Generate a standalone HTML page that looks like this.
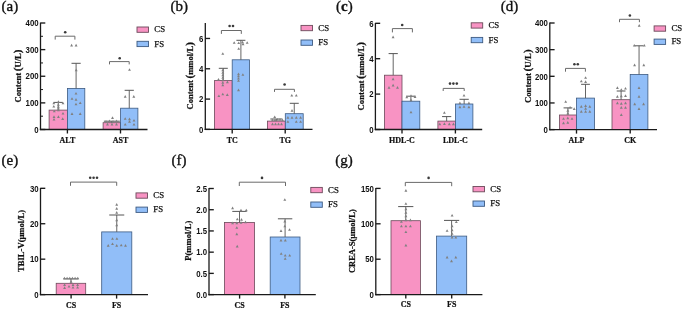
<!DOCTYPE html>
<html><head><meta charset="utf-8"><style>
html,body{margin:0;padding:0;background:#fff;}
body{width:685px;height:309px;overflow:hidden;}
svg{display:block;filter:blur(0.3px);}
</style></head><body>
<svg width="685" height="309" viewBox="0 0 685 309">
<rect x="0" y="0" width="685" height="309" fill="#fff"/>
<rect x="49.10" y="110.10" width="18.30" height="19.40" fill="#f893c3" stroke="#6b4a5a" stroke-width="0.8"/>
<line x1="58.25" y1="110.10" x2="58.25" y2="102.40" stroke="#555" stroke-width="0.9"/>
<line x1="53.65" y1="102.40" x2="62.85" y2="102.40" stroke="#555" stroke-width="1.0"/>
<rect x="67.40" y="88.40" width="17.40" height="41.10" fill="#91bef8" stroke="#3d5a80" stroke-width="0.8"/>
<line x1="76.10" y1="88.40" x2="76.10" y2="63.30" stroke="#555" stroke-width="0.9"/>
<line x1="71.50" y1="63.30" x2="80.70" y2="63.30" stroke="#555" stroke-width="1.0"/>
<path d="M53.80 101.75 L55.25 104.36 L52.35 104.36 Z" fill="#808080"/>
<path d="M58.40 100.35 L59.85 102.96 L56.95 102.96 Z" fill="#808080"/>
<path d="M63.00 101.75 L64.45 104.36 L61.55 104.36 Z" fill="#808080"/>
<path d="M53.80 104.95 L55.25 107.56 L52.35 107.56 Z" fill="#808080"/>
<path d="M58.40 103.25 L59.85 105.86 L56.95 105.86 Z" fill="#808080"/>
<path d="M58.40 105.15 L59.85 107.76 L56.95 107.76 Z" fill="#808080"/>
<path d="M58.40 106.85 L59.85 109.46 L56.95 109.46 Z" fill="#808080"/>
<path d="M58.40 108.55 L59.85 111.16 L56.95 111.16 Z" fill="#808080"/>
<path d="M54.30 109.75 L55.75 112.36 L52.85 112.36 Z" fill="#808080"/>
<path d="M63.00 111.95 L64.45 114.56 L61.55 114.56 Z" fill="#808080"/>
<path d="M54.00 115.35 L55.45 117.96 L52.55 117.96 Z" fill="#808080"/>
<path d="M58.40 115.35 L59.85 117.96 L56.95 117.96 Z" fill="#808080"/>
<path d="M54.00 117.95 L55.45 120.56 L52.55 120.56 Z" fill="#808080"/>
<path d="M62.70 117.35 L64.15 119.96 L61.25 119.96 Z" fill="#808080"/>
<path d="M71.60 43.85 L73.05 46.46 L70.15 46.46 Z" fill="#808080"/>
<path d="M76.10 43.85 L77.55 46.46 L74.65 46.46 Z" fill="#808080"/>
<path d="M76.00 91.95 L77.45 94.56 L74.55 94.56 Z" fill="#808080"/>
<path d="M72.00 97.15 L73.45 99.76 L70.55 99.76 Z" fill="#808080"/>
<path d="M76.00 98.05 L77.45 100.66 L74.55 100.66 Z" fill="#808080"/>
<path d="M76.00 102.75 L77.45 105.36 L74.55 105.36 Z" fill="#808080"/>
<path d="M80.20 101.45 L81.65 104.06 L78.75 104.06 Z" fill="#808080"/>
<path d="M72.00 112.35 L73.45 114.96 L70.55 114.96 Z" fill="#808080"/>
<path d="M80.20 112.35 L81.65 114.96 L78.75 114.96 Z" fill="#808080"/>
<path d="M76.20 68.55 L77.65 71.16 L74.75 71.16 Z" fill="#808080"/>
<rect x="103.10" y="122.70" width="17.50" height="6.80" fill="#f893c3" stroke="#6b4a5a" stroke-width="0.8"/>
<line x1="111.85" y1="122.70" x2="111.85" y2="121.20" stroke="#555" stroke-width="0.9"/>
<line x1="103.85" y1="121.20" x2="119.85" y2="121.20" stroke="#555" stroke-width="1.0"/>
<rect x="120.60" y="108.20" width="17.30" height="21.30" fill="#91bef8" stroke="#3d5a80" stroke-width="0.8"/>
<line x1="129.25" y1="108.20" x2="129.25" y2="90.30" stroke="#555" stroke-width="0.9"/>
<line x1="124.65" y1="90.30" x2="133.85" y2="90.30" stroke="#555" stroke-width="1.0"/>
<path d="M112.50 116.35 L113.95 118.96 L111.05 118.96 Z" fill="#808080"/>
<path d="M106.00 120.05 L107.45 122.66 L104.55 122.66 Z" fill="#808080"/>
<path d="M109.50 119.55 L110.95 122.16 L108.05 122.16 Z" fill="#808080"/>
<path d="M113.00 120.05 L114.45 122.66 L111.55 122.66 Z" fill="#808080"/>
<path d="M116.50 119.55 L117.95 122.16 L115.05 122.16 Z" fill="#808080"/>
<path d="M107.50 122.85 L108.95 125.46 L106.05 125.46 Z" fill="#808080"/>
<path d="M112.00 122.85 L113.45 125.46 L110.55 125.46 Z" fill="#808080"/>
<path d="M116.50 122.85 L117.95 125.46 L115.05 125.46 Z" fill="#808080"/>
<path d="M129.50 68.15 L130.95 70.76 L128.05 70.76 Z" fill="#808080"/>
<path d="M125.20 95.05 L126.65 97.66 L123.75 97.66 Z" fill="#808080"/>
<path d="M133.80 95.05 L135.25 97.66 L132.35 97.66 Z" fill="#808080"/>
<path d="M125.20 117.25 L126.65 119.86 L123.75 119.86 Z" fill="#808080"/>
<path d="M129.50 117.55 L130.95 120.16 L128.05 120.16 Z" fill="#808080"/>
<path d="M134.00 118.95 L135.45 121.56 L132.55 121.56 Z" fill="#808080"/>
<path d="M129.50 120.05 L130.95 122.66 L128.05 122.66 Z" fill="#808080"/>
<path d="M125.20 122.95 L126.65 125.56 L123.75 125.56 Z" fill="#808080"/>
<path d="M134.00 122.95 L135.45 125.56 L132.55 125.56 Z" fill="#808080"/>
<line x1="40.50" y1="130.10" x2="40.50" y2="22.60" stroke="#1a1a1a" stroke-width="1.3"/>
<line x1="39.85" y1="129.50" x2="147.50" y2="129.50" stroke="#1a1a1a" stroke-width="1.3"/>
<line x1="40.50" y1="129.50" x2="45.30" y2="129.50" stroke="#1a1a1a" stroke-width="1.35"/>
<text transform="translate(38.60 132.70) scale(1.000 1.220)" font-family='"Liberation Sans", sans-serif' font-size="7.8" font-weight="bold" text-anchor="end" fill="#111">0</text>
<line x1="40.50" y1="102.88" x2="45.30" y2="102.88" stroke="#1a1a1a" stroke-width="1.35"/>
<text transform="translate(38.60 106.08) scale(1.000 1.220)" font-family='"Liberation Sans", sans-serif' font-size="7.8" font-weight="bold" text-anchor="end" fill="#111">100</text>
<line x1="40.50" y1="76.25" x2="45.30" y2="76.25" stroke="#1a1a1a" stroke-width="1.35"/>
<text transform="translate(38.60 79.45) scale(1.000 1.220)" font-family='"Liberation Sans", sans-serif' font-size="7.8" font-weight="bold" text-anchor="end" fill="#111">200</text>
<line x1="40.50" y1="49.62" x2="45.30" y2="49.62" stroke="#1a1a1a" stroke-width="1.35"/>
<text transform="translate(38.60 52.83) scale(1.000 1.220)" font-family='"Liberation Sans", sans-serif' font-size="7.8" font-weight="bold" text-anchor="end" fill="#111">300</text>
<line x1="40.50" y1="23.00" x2="45.30" y2="23.00" stroke="#1a1a1a" stroke-width="1.35"/>
<text transform="translate(38.60 26.20) scale(1.000 1.220)" font-family='"Liberation Sans", sans-serif' font-size="7.8" font-weight="bold" text-anchor="end" fill="#111">400</text>
<line x1="40.50" y1="116.19" x2="43.00" y2="116.19" stroke="#1a1a1a" stroke-width="1.0"/>
<line x1="40.50" y1="89.56" x2="43.00" y2="89.56" stroke="#1a1a1a" stroke-width="1.0"/>
<line x1="40.50" y1="62.94" x2="43.00" y2="62.94" stroke="#1a1a1a" stroke-width="1.0"/>
<line x1="40.50" y1="36.31" x2="43.00" y2="36.31" stroke="#1a1a1a" stroke-width="1.0"/>
<line x1="67.40" y1="129.50" x2="67.40" y2="133.50" stroke="#1a1a1a" stroke-width="1.35"/>
<text transform="translate(67.40 142.80)" font-family='"Liberation Serif", serif' font-size="8" font-weight="bold" text-anchor="middle" fill="#111" stroke="#111" stroke-width="0.2">ALT</text>
<line x1="120.50" y1="129.50" x2="120.50" y2="133.50" stroke="#1a1a1a" stroke-width="1.35"/>
<text transform="translate(120.50 142.80)" font-family='"Liberation Serif", serif' font-size="8" font-weight="bold" text-anchor="middle" fill="#111" stroke="#111" stroke-width="0.2">AST</text>
<path d="M55.20 39.60 V36.20 H74.90 V39.60" fill="none" stroke="#6a6a6a" stroke-width="1"/>
<circle cx="65.20" cy="32.20" r="1.3" fill="#3a3a3a"/>
<path d="M109.50 64.40 V61.60 H129.20 V64.40" fill="none" stroke="#6a6a6a" stroke-width="1"/>
<circle cx="119.70" cy="58.20" r="1.3" fill="#3a3a3a"/>
<rect x="137.00" y="27.00" width="11.50" height="5.30" fill="#f893c3" stroke="#6b4a5a" stroke-width="0.9"/>
<rect x="137.00" y="41.30" width="11.50" height="5.30" fill="#91bef8" stroke="#3d5a80" stroke-width="0.9"/>
<text transform="translate(154.30 32.30)" font-family='"Liberation Serif", serif' font-size="8.8" font-weight="normal" text-anchor="start" fill="#111" stroke="#111" stroke-width="0.25">CS</text>
<text transform="translate(154.30 46.50)" font-family='"Liberation Serif", serif' font-size="8.8" font-weight="normal" text-anchor="start" fill="#111" stroke="#111" stroke-width="0.25">FS</text>
<text transform="translate(21.20 76.00) rotate(-90) scale(1.095 1.000)" font-family='"Liberation Serif", serif' font-size="7.9" font-weight="bold" text-anchor="middle" fill="#111" stroke="#111" stroke-width="0.22">Content<tspan font-size="1.3em" dx="1.4">(</tspan>U/L<tspan font-size="1.3em">)</tspan></text>
<text transform="translate(1.60 11.10)" font-family='"Liberation Serif", serif' font-size="15" font-weight="normal" text-anchor="start" fill="#111" stroke="#111" stroke-width="0.35">(a)</text>
<rect x="214.40" y="80.60" width="17.80" height="48.80" fill="#f893c3" stroke="#6b4a5a" stroke-width="0.8"/>
<line x1="223.30" y1="80.60" x2="223.30" y2="68.30" stroke="#555" stroke-width="0.9"/>
<line x1="218.80" y1="68.30" x2="227.80" y2="68.30" stroke="#555" stroke-width="1.0"/>
<rect x="232.20" y="59.80" width="17.40" height="69.60" fill="#91bef8" stroke="#3d5a80" stroke-width="0.8"/>
<line x1="240.90" y1="59.80" x2="240.90" y2="40.30" stroke="#555" stroke-width="0.9"/>
<line x1="236.40" y1="40.30" x2="245.40" y2="40.30" stroke="#555" stroke-width="1.0"/>
<path d="M222.80 52.15 L224.25 54.76 L221.35 54.76 Z" fill="#808080"/>
<path d="M222.80 68.55 L224.25 71.16 L221.35 71.16 Z" fill="#808080"/>
<path d="M222.80 71.05 L224.25 73.66 L221.35 73.66 Z" fill="#808080"/>
<path d="M222.80 73.55 L224.25 76.16 L221.35 76.16 Z" fill="#808080"/>
<path d="M222.80 76.05 L224.25 78.66 L221.35 78.66 Z" fill="#808080"/>
<path d="M222.80 78.55 L224.25 81.16 L221.35 81.16 Z" fill="#808080"/>
<path d="M222.80 81.05 L224.25 83.66 L221.35 83.66 Z" fill="#808080"/>
<path d="M222.80 83.55 L224.25 86.16 L221.35 86.16 Z" fill="#808080"/>
<path d="M218.50 77.95 L219.95 80.56 L217.05 80.56 Z" fill="#808080"/>
<path d="M227.40 80.55 L228.85 83.16 L225.95 83.16 Z" fill="#808080"/>
<path d="M218.90 94.45 L220.35 97.06 L217.45 97.06 Z" fill="#808080"/>
<path d="M222.80 92.65 L224.25 95.26 L221.35 95.26 Z" fill="#808080"/>
<path d="M227.30 93.35 L228.75 95.96 L225.85 95.96 Z" fill="#808080"/>
<path d="M234.20 41.15 L235.65 43.76 L232.75 43.76 Z" fill="#808080"/>
<path d="M238.70 41.45 L240.15 44.06 L237.25 44.06 Z" fill="#808080"/>
<path d="M242.50 40.75 L243.95 43.36 L241.05 43.36 Z" fill="#808080"/>
<path d="M243.00 42.55 L244.45 45.16 L241.55 45.16 Z" fill="#808080"/>
<path d="M247.20 41.15 L248.65 43.76 L245.75 43.76 Z" fill="#808080"/>
<path d="M238.70 47.25 L240.15 49.86 L237.25 49.86 Z" fill="#808080"/>
<path d="M238.50 72.55 L239.95 75.16 L237.05 75.16 Z" fill="#808080"/>
<path d="M238.50 74.75 L239.95 77.36 L237.05 77.36 Z" fill="#808080"/>
<path d="M238.50 76.95 L239.95 79.56 L237.05 79.56 Z" fill="#808080"/>
<path d="M238.50 79.15 L239.95 81.76 L237.05 81.76 Z" fill="#808080"/>
<path d="M242.90 73.15 L244.35 75.76 L241.45 75.76 Z" fill="#808080"/>
<path d="M238.50 88.55 L239.95 91.16 L237.05 91.16 Z" fill="#808080"/>
<rect x="267.40" y="121.10" width="17.90" height="8.30" fill="#f893c3" stroke="#6b4a5a" stroke-width="0.8"/>
<line x1="276.35" y1="121.10" x2="276.35" y2="119.00" stroke="#555" stroke-width="0.9"/>
<line x1="270.35" y1="119.00" x2="282.35" y2="119.00" stroke="#555" stroke-width="1.0"/>
<rect x="285.30" y="113.70" width="17.90" height="15.70" fill="#91bef8" stroke="#3d5a80" stroke-width="0.8"/>
<line x1="294.25" y1="113.70" x2="294.25" y2="103.30" stroke="#555" stroke-width="0.9"/>
<line x1="289.75" y1="103.30" x2="298.75" y2="103.30" stroke="#555" stroke-width="1.0"/>
<path d="M274.70 115.45 L276.15 118.06 L273.25 118.06 Z" fill="#808080"/>
<path d="M272.50 118.55 L273.95 121.16 L271.05 121.16 Z" fill="#808080"/>
<path d="M275.00 118.55 L276.45 121.16 L273.55 121.16 Z" fill="#808080"/>
<path d="M277.50 118.05 L278.95 120.66 L276.05 120.66 Z" fill="#808080"/>
<path d="M280.00 118.05 L281.45 120.66 L278.55 120.66 Z" fill="#808080"/>
<path d="M282.50 118.55 L283.95 121.16 L281.05 121.16 Z" fill="#808080"/>
<path d="M272.50 122.55 L273.95 125.16 L271.05 125.16 Z" fill="#808080"/>
<path d="M275.50 122.55 L276.95 125.16 L274.05 125.16 Z" fill="#808080"/>
<path d="M278.50 122.55 L279.95 125.16 L277.05 125.16 Z" fill="#808080"/>
<path d="M281.50 122.55 L282.95 125.16 L280.05 125.16 Z" fill="#808080"/>
<path d="M291.80 93.95 L293.25 96.56 L290.35 96.56 Z" fill="#808080"/>
<path d="M296.30 93.95 L297.75 96.56 L294.85 96.56 Z" fill="#808080"/>
<path d="M292.00 109.05 L293.45 111.66 L290.55 111.66 Z" fill="#808080"/>
<path d="M287.90 116.05 L289.35 118.66 L286.45 118.66 Z" fill="#808080"/>
<path d="M292.00 116.05 L293.45 118.66 L290.55 118.66 Z" fill="#808080"/>
<path d="M296.30 116.05 L297.75 118.66 L294.85 118.66 Z" fill="#808080"/>
<path d="M300.60 116.05 L302.05 118.66 L299.15 118.66 Z" fill="#808080"/>
<path d="M287.90 120.25 L289.35 122.86 L286.45 122.86 Z" fill="#808080"/>
<path d="M296.30 120.25 L297.75 122.86 L294.85 122.86 Z" fill="#808080"/>
<path d="M300.60 120.25 L302.05 122.86 L299.15 122.86 Z" fill="#808080"/>
<line x1="205.30" y1="130.00" x2="205.30" y2="22.90" stroke="#1a1a1a" stroke-width="1.3"/>
<line x1="204.65" y1="129.40" x2="312.50" y2="129.40" stroke="#1a1a1a" stroke-width="1.3"/>
<line x1="205.30" y1="129.40" x2="210.10" y2="129.40" stroke="#1a1a1a" stroke-width="1.35"/>
<text transform="translate(203.40 132.60) scale(1.000 1.220)" font-family='"Liberation Sans", sans-serif' font-size="7.8" font-weight="bold" text-anchor="end" fill="#111">0</text>
<line x1="205.30" y1="99.09" x2="210.10" y2="99.09" stroke="#1a1a1a" stroke-width="1.35"/>
<text transform="translate(203.40 102.29) scale(1.000 1.220)" font-family='"Liberation Sans", sans-serif' font-size="7.8" font-weight="bold" text-anchor="end" fill="#111">2</text>
<line x1="205.30" y1="68.77" x2="210.10" y2="68.77" stroke="#1a1a1a" stroke-width="1.35"/>
<text transform="translate(203.40 71.97) scale(1.000 1.220)" font-family='"Liberation Sans", sans-serif' font-size="7.8" font-weight="bold" text-anchor="end" fill="#111">4</text>
<line x1="205.30" y1="38.46" x2="210.10" y2="38.46" stroke="#1a1a1a" stroke-width="1.35"/>
<text transform="translate(203.40 41.66) scale(1.000 1.220)" font-family='"Liberation Sans", sans-serif' font-size="7.8" font-weight="bold" text-anchor="end" fill="#111">6</text>
<line x1="232.20" y1="129.40" x2="232.20" y2="133.40" stroke="#1a1a1a" stroke-width="1.35"/>
<text transform="translate(232.20 142.70)" font-family='"Liberation Serif", serif' font-size="8" font-weight="bold" text-anchor="middle" fill="#111" stroke="#111" stroke-width="0.2">TC</text>
<line x1="285.20" y1="129.40" x2="285.20" y2="133.40" stroke="#1a1a1a" stroke-width="1.35"/>
<text transform="translate(285.20 142.70)" font-family='"Liberation Serif", serif' font-size="8" font-weight="bold" text-anchor="middle" fill="#111" stroke="#111" stroke-width="0.2">TG</text>
<path d="M221.40 33.90 V30.50 H241.30 V33.90" fill="none" stroke="#6a6a6a" stroke-width="1"/>
<circle cx="229.60" cy="26.00" r="1.3" fill="#3a3a3a"/>
<circle cx="233.00" cy="26.00" r="1.3" fill="#3a3a3a"/>
<path d="M274.50 91.90 V89.30 H294.40 V91.90" fill="none" stroke="#6a6a6a" stroke-width="1"/>
<circle cx="284.60" cy="84.50" r="1.3" fill="#3a3a3a"/>
<rect x="301.00" y="25.40" width="11.50" height="5.30" fill="#f893c3" stroke="#6b4a5a" stroke-width="0.9"/>
<rect x="301.00" y="40.00" width="11.50" height="5.30" fill="#91bef8" stroke="#3d5a80" stroke-width="0.9"/>
<text transform="translate(318.30 30.70)" font-family='"Liberation Serif", serif' font-size="8.8" font-weight="normal" text-anchor="start" fill="#111" stroke="#111" stroke-width="0.25">CS</text>
<text transform="translate(318.30 45.20)" font-family='"Liberation Serif", serif' font-size="8.8" font-weight="normal" text-anchor="start" fill="#111" stroke="#111" stroke-width="0.25">FS</text>
<text transform="translate(193.20 75.80) rotate(-90) scale(1.072 1.000)" font-family='"Liberation Serif", serif' font-size="8.0" font-weight="bold" text-anchor="middle" fill="#111" stroke="#111" stroke-width="0.22">Content<tspan font-size="1.3em" dx="1.4">(</tspan>mmol/L<tspan font-size="1.3em">)</tspan></text>
<text transform="translate(170.50 11.10)" font-family='"Liberation Serif", serif' font-size="15" font-weight="normal" text-anchor="start" fill="#111" stroke="#111" stroke-width="0.35">(b)</text>
<rect x="384.40" y="75.20" width="17.60" height="54.30" fill="#f893c3" stroke="#6b4a5a" stroke-width="0.8"/>
<line x1="393.20" y1="75.20" x2="393.20" y2="53.60" stroke="#555" stroke-width="0.9"/>
<line x1="388.60" y1="53.60" x2="397.80" y2="53.60" stroke="#555" stroke-width="1.0"/>
<rect x="402.00" y="101.20" width="17.80" height="28.30" fill="#91bef8" stroke="#3d5a80" stroke-width="0.8"/>
<line x1="410.90" y1="101.20" x2="410.90" y2="96.20" stroke="#555" stroke-width="0.9"/>
<line x1="406.30" y1="96.20" x2="415.50" y2="96.20" stroke="#555" stroke-width="1.0"/>
<path d="M393.10 35.55 L394.55 38.16 L391.65 38.16 Z" fill="#808080"/>
<path d="M393.10 77.55 L394.55 80.16 L391.65 80.16 Z" fill="#808080"/>
<path d="M389.00 86.05 L390.45 88.66 L387.55 88.66 Z" fill="#808080"/>
<path d="M393.10 83.85 L394.55 86.46 L391.65 86.46 Z" fill="#808080"/>
<path d="M397.50 86.05 L398.95 88.66 L396.05 88.66 Z" fill="#808080"/>
<path d="M406.80 95.55 L408.25 98.16 L405.35 98.16 Z" fill="#808080"/>
<path d="M411.00 94.35 L412.45 96.96 L409.55 96.96 Z" fill="#808080"/>
<path d="M415.00 95.35 L416.45 97.96 L413.55 97.96 Z" fill="#808080"/>
<path d="M411.00 98.55 L412.45 101.16 L409.55 101.16 Z" fill="#808080"/>
<path d="M411.00 110.75 L412.45 113.36 L409.55 113.36 Z" fill="#808080"/>
<rect x="437.90" y="121.10" width="17.50" height="8.40" fill="#f893c3" stroke="#6b4a5a" stroke-width="0.8"/>
<line x1="446.65" y1="121.10" x2="446.65" y2="116.60" stroke="#555" stroke-width="0.9"/>
<line x1="442.05" y1="116.60" x2="451.25" y2="116.60" stroke="#555" stroke-width="1.0"/>
<rect x="455.40" y="104.00" width="17.50" height="25.50" fill="#91bef8" stroke="#3d5a80" stroke-width="0.8"/>
<line x1="464.15" y1="104.00" x2="464.15" y2="99.30" stroke="#555" stroke-width="0.9"/>
<line x1="459.55" y1="99.30" x2="468.75" y2="99.30" stroke="#555" stroke-width="1.0"/>
<path d="M444.40 111.25 L445.85 113.86 L442.95 113.86 Z" fill="#808080"/>
<path d="M439.80 122.55 L441.25 125.16 L438.35 125.16 Z" fill="#808080"/>
<path d="M444.40 122.35 L445.85 124.96 L442.95 124.96 Z" fill="#808080"/>
<path d="M449.30 122.55 L450.75 125.16 L447.85 125.16 Z" fill="#808080"/>
<path d="M453.40 122.55 L454.85 125.16 L451.95 125.16 Z" fill="#808080"/>
<path d="M464.00 93.95 L465.45 96.56 L462.55 96.56 Z" fill="#808080"/>
<path d="M459.90 101.55 L461.35 104.16 L458.45 104.16 Z" fill="#808080"/>
<path d="M468.90 101.55 L470.35 104.16 L467.45 104.16 Z" fill="#808080"/>
<path d="M459.90 105.55 L461.35 108.16 L458.45 108.16 Z" fill="#808080"/>
<path d="M464.00 105.05 L465.45 107.66 L462.55 107.66 Z" fill="#808080"/>
<path d="M468.90 105.55 L470.35 108.16 L467.45 108.16 Z" fill="#808080"/>
<line x1="375.40" y1="130.10" x2="375.40" y2="22.90" stroke="#1a1a1a" stroke-width="1.3"/>
<line x1="374.75" y1="129.50" x2="482.20" y2="129.50" stroke="#1a1a1a" stroke-width="1.3"/>
<line x1="375.40" y1="129.50" x2="380.20" y2="129.50" stroke="#1a1a1a" stroke-width="1.35"/>
<text transform="translate(373.50 132.70) scale(1.000 1.220)" font-family='"Liberation Sans", sans-serif' font-size="7.8" font-weight="bold" text-anchor="end" fill="#111">0</text>
<line x1="375.40" y1="94.10" x2="380.20" y2="94.10" stroke="#1a1a1a" stroke-width="1.35"/>
<text transform="translate(373.50 97.30) scale(1.000 1.220)" font-family='"Liberation Sans", sans-serif' font-size="7.8" font-weight="bold" text-anchor="end" fill="#111">2</text>
<line x1="375.40" y1="58.70" x2="380.20" y2="58.70" stroke="#1a1a1a" stroke-width="1.35"/>
<text transform="translate(373.50 61.90) scale(1.000 1.220)" font-family='"Liberation Sans", sans-serif' font-size="7.8" font-weight="bold" text-anchor="end" fill="#111">4</text>
<line x1="375.40" y1="23.30" x2="380.20" y2="23.30" stroke="#1a1a1a" stroke-width="1.35"/>
<text transform="translate(373.50 26.50) scale(1.000 1.220)" font-family='"Liberation Sans", sans-serif' font-size="7.8" font-weight="bold" text-anchor="end" fill="#111">6</text>
<line x1="402.00" y1="129.50" x2="402.00" y2="133.50" stroke="#1a1a1a" stroke-width="1.35"/>
<text transform="translate(402.00 142.80)" font-family='"Liberation Serif", serif' font-size="8" font-weight="bold" text-anchor="middle" fill="#111" stroke="#111" stroke-width="0.2">HDL-C</text>
<line x1="455.40" y1="129.50" x2="455.40" y2="133.50" stroke="#1a1a1a" stroke-width="1.35"/>
<text transform="translate(455.40 142.80)" font-family='"Liberation Serif", serif' font-size="8" font-weight="bold" text-anchor="middle" fill="#111" stroke="#111" stroke-width="0.2">LDL-C</text>
<path d="M392.40 32.40 V28.60 H412.40 V32.40" fill="none" stroke="#6a6a6a" stroke-width="1"/>
<circle cx="402.20" cy="25.00" r="1.3" fill="#3a3a3a"/>
<path d="M443.20 91.00 V88.40 H464.20 V91.00" fill="none" stroke="#6a6a6a" stroke-width="1"/>
<circle cx="450.00" cy="83.60" r="1.3" fill="#3a3a3a"/>
<circle cx="453.40" cy="83.60" r="1.3" fill="#3a3a3a"/>
<circle cx="456.80" cy="83.60" r="1.3" fill="#3a3a3a"/>
<rect x="471.20" y="22.80" width="11.50" height="5.30" fill="#f893c3" stroke="#6b4a5a" stroke-width="0.9"/>
<rect x="471.20" y="37.40" width="11.50" height="5.30" fill="#91bef8" stroke="#3d5a80" stroke-width="0.9"/>
<text transform="translate(488.50 28.10)" font-family='"Liberation Serif", serif' font-size="8.8" font-weight="normal" text-anchor="start" fill="#111" stroke="#111" stroke-width="0.25">CS</text>
<text transform="translate(488.50 42.60)" font-family='"Liberation Serif", serif' font-size="8.8" font-weight="normal" text-anchor="start" fill="#111" stroke="#111" stroke-width="0.25">FS</text>
<text transform="translate(364.00 76.20) rotate(-90) scale(1.087 1.000)" font-family='"Liberation Serif", serif' font-size="8.0" font-weight="bold" text-anchor="middle" fill="#111" stroke="#111" stroke-width="0.22">Content<tspan font-size="1.3em" dx="1.4">(</tspan>mmol/L<tspan font-size="1.3em">)</tspan></text>
<text transform="translate(336.00 11.10)" font-family='"Liberation Serif", serif' font-size="15" font-weight="normal" text-anchor="start" fill="#111" stroke="#111" stroke-width="0.35">(<tspan font-weight="bold">c</tspan>)</text>
<rect x="559.40" y="115.00" width="17.10" height="14.60" fill="#f893c3" stroke="#6b4a5a" stroke-width="0.8"/>
<line x1="567.95" y1="115.00" x2="567.95" y2="107.90" stroke="#555" stroke-width="0.9"/>
<line x1="563.55" y1="107.90" x2="572.35" y2="107.90" stroke="#555" stroke-width="1.0"/>
<rect x="576.50" y="98.10" width="18.00" height="31.50" fill="#91bef8" stroke="#3d5a80" stroke-width="0.8"/>
<line x1="585.50" y1="98.10" x2="585.50" y2="84.30" stroke="#555" stroke-width="0.9"/>
<line x1="581.10" y1="84.30" x2="589.90" y2="84.30" stroke="#555" stroke-width="1.0"/>
<path d="M565.70 100.25 L567.15 102.86 L564.25 102.86 Z" fill="#808080"/>
<path d="M570.10 105.95 L571.55 108.56 L568.65 108.56 Z" fill="#808080"/>
<path d="M574.20 107.35 L575.65 109.96 L572.75 109.96 Z" fill="#808080"/>
<path d="M567.80 109.05 L569.25 111.66 L566.35 111.66 Z" fill="#808080"/>
<path d="M567.80 111.85 L569.25 114.46 L566.35 114.46 Z" fill="#808080"/>
<path d="M563.50 117.25 L564.95 119.86 L562.05 119.86 Z" fill="#808080"/>
<path d="M567.80 116.55 L569.25 119.16 L566.35 119.16 Z" fill="#808080"/>
<path d="M572.00 117.25 L573.45 119.86 L570.55 119.86 Z" fill="#808080"/>
<path d="M563.50 121.55 L564.95 124.16 L562.05 124.16 Z" fill="#808080"/>
<path d="M567.80 121.05 L569.25 123.66 L566.35 123.66 Z" fill="#808080"/>
<path d="M585.60 76.25 L587.05 78.86 L584.15 78.86 Z" fill="#808080"/>
<path d="M581.30 79.75 L582.75 82.36 L579.85 82.36 Z" fill="#808080"/>
<path d="M585.60 80.35 L587.05 82.96 L584.15 82.96 Z" fill="#808080"/>
<path d="M581.30 105.05 L582.75 107.66 L579.85 107.66 Z" fill="#808080"/>
<path d="M585.60 104.35 L587.05 106.96 L584.15 106.96 Z" fill="#808080"/>
<path d="M589.80 105.05 L591.25 107.66 L588.35 107.66 Z" fill="#808080"/>
<path d="M585.60 107.05 L587.05 109.66 L584.15 109.66 Z" fill="#808080"/>
<path d="M581.30 110.05 L582.75 112.66 L579.85 112.66 Z" fill="#808080"/>
<path d="M585.60 110.05 L587.05 112.66 L584.15 112.66 Z" fill="#808080"/>
<path d="M589.80 110.05 L591.25 112.66 L588.35 112.66 Z" fill="#808080"/>
<rect x="612.00" y="99.70" width="18.20" height="29.90" fill="#f893c3" stroke="#6b4a5a" stroke-width="0.8"/>
<line x1="621.10" y1="99.70" x2="621.10" y2="91.00" stroke="#555" stroke-width="0.9"/>
<line x1="616.70" y1="91.00" x2="625.50" y2="91.00" stroke="#555" stroke-width="1.0"/>
<rect x="630.20" y="74.50" width="17.70" height="55.10" fill="#91bef8" stroke="#3d5a80" stroke-width="0.8"/>
<line x1="639.05" y1="74.50" x2="639.05" y2="45.80" stroke="#555" stroke-width="0.9"/>
<line x1="634.65" y1="45.80" x2="643.45" y2="45.80" stroke="#555" stroke-width="1.0"/>
<path d="M617.40 86.35 L618.85 88.96 L615.95 88.96 Z" fill="#808080"/>
<path d="M625.50 86.95 L626.95 89.56 L624.05 89.56 Z" fill="#808080"/>
<path d="M621.30 88.25 L622.75 90.86 L619.85 90.86 Z" fill="#808080"/>
<path d="M617.40 95.05 L618.85 97.66 L615.95 97.66 Z" fill="#808080"/>
<path d="M621.30 94.75 L622.75 97.36 L619.85 97.36 Z" fill="#808080"/>
<path d="M625.50 94.35 L626.95 96.96 L624.05 96.96 Z" fill="#808080"/>
<path d="M617.40 101.55 L618.85 104.16 L615.95 104.16 Z" fill="#808080"/>
<path d="M621.30 102.05 L622.75 104.66 L619.85 104.66 Z" fill="#808080"/>
<path d="M625.50 101.55 L626.95 104.16 L624.05 104.16 Z" fill="#808080"/>
<path d="M621.30 106.05 L622.75 108.66 L619.85 108.66 Z" fill="#808080"/>
<path d="M625.50 106.05 L626.95 108.66 L624.05 108.66 Z" fill="#808080"/>
<path d="M621.30 113.35 L622.75 115.96 L619.85 115.96 Z" fill="#808080"/>
<path d="M634.30 43.95 L635.75 46.56 L632.85 46.56 Z" fill="#808080"/>
<path d="M644.30 43.95 L645.75 46.56 L642.85 46.56 Z" fill="#808080"/>
<path d="M639.20 24.05 L640.65 26.66 L637.75 26.66 Z" fill="#808080"/>
<path d="M634.60 63.55 L636.05 66.16 L633.15 66.16 Z" fill="#808080"/>
<path d="M643.80 63.55 L645.25 66.16 L642.35 66.16 Z" fill="#808080"/>
<path d="M639.00 86.35 L640.45 88.96 L637.55 88.96 Z" fill="#808080"/>
<path d="M639.00 95.05 L640.45 97.66 L637.55 97.66 Z" fill="#808080"/>
<path d="M634.70 102.55 L636.15 105.16 L633.25 105.16 Z" fill="#808080"/>
<path d="M643.60 102.55 L645.05 105.16 L642.15 105.16 Z" fill="#808080"/>
<path d="M639.00 107.35 L640.45 109.96 L637.55 109.96 Z" fill="#808080"/>
<line x1="549.80" y1="130.20" x2="549.80" y2="22.60" stroke="#1a1a1a" stroke-width="1.3"/>
<line x1="549.15" y1="129.60" x2="657.00" y2="129.60" stroke="#1a1a1a" stroke-width="1.3"/>
<line x1="549.80" y1="129.60" x2="554.60" y2="129.60" stroke="#1a1a1a" stroke-width="1.35"/>
<text transform="translate(547.90 132.80) scale(1.000 1.220)" font-family='"Liberation Sans", sans-serif' font-size="7.8" font-weight="bold" text-anchor="end" fill="#111">0</text>
<line x1="549.80" y1="102.95" x2="554.60" y2="102.95" stroke="#1a1a1a" stroke-width="1.35"/>
<text transform="translate(547.90 106.15) scale(1.000 1.220)" font-family='"Liberation Sans", sans-serif' font-size="7.8" font-weight="bold" text-anchor="end" fill="#111">100</text>
<line x1="549.80" y1="76.30" x2="554.60" y2="76.30" stroke="#1a1a1a" stroke-width="1.35"/>
<text transform="translate(547.90 79.50) scale(1.000 1.220)" font-family='"Liberation Sans", sans-serif' font-size="7.8" font-weight="bold" text-anchor="end" fill="#111">200</text>
<line x1="549.80" y1="49.65" x2="554.60" y2="49.65" stroke="#1a1a1a" stroke-width="1.35"/>
<text transform="translate(547.90 52.85) scale(1.000 1.220)" font-family='"Liberation Sans", sans-serif' font-size="7.8" font-weight="bold" text-anchor="end" fill="#111">300</text>
<line x1="549.80" y1="23.00" x2="554.60" y2="23.00" stroke="#1a1a1a" stroke-width="1.35"/>
<text transform="translate(547.90 26.20) scale(1.000 1.220)" font-family='"Liberation Sans", sans-serif' font-size="7.8" font-weight="bold" text-anchor="end" fill="#111">400</text>
<line x1="576.50" y1="129.60" x2="576.50" y2="133.60" stroke="#1a1a1a" stroke-width="1.35"/>
<text transform="translate(576.50 142.80)" font-family='"Liberation Serif", serif' font-size="8" font-weight="bold" text-anchor="middle" fill="#111" stroke="#111" stroke-width="0.2">ALP</text>
<line x1="630.20" y1="129.60" x2="630.20" y2="133.60" stroke="#1a1a1a" stroke-width="1.35"/>
<text transform="translate(630.20 142.80)" font-family='"Liberation Serif", serif' font-size="8" font-weight="bold" text-anchor="middle" fill="#111" stroke="#111" stroke-width="0.2">CK</text>
<path d="M565.50 71.70 V68.40 H585.40 V71.70" fill="none" stroke="#6a6a6a" stroke-width="1"/>
<circle cx="574.40" cy="64.30" r="1.3" fill="#3a3a3a"/>
<circle cx="577.80" cy="64.30" r="1.3" fill="#3a3a3a"/>
<path d="M619.50 22.20 V19.30 H639.40 V22.20" fill="none" stroke="#6a6a6a" stroke-width="1"/>
<circle cx="629.90" cy="15.50" r="1.3" fill="#3a3a3a"/>
<rect x="654.10" y="25.90" width="11.50" height="5.30" fill="#f893c3" stroke="#6b4a5a" stroke-width="0.9"/>
<rect x="654.10" y="39.10" width="11.50" height="5.30" fill="#91bef8" stroke="#3d5a80" stroke-width="0.9"/>
<text transform="translate(671.40 31.20)" font-family='"Liberation Serif", serif' font-size="8.8" font-weight="normal" text-anchor="start" fill="#111" stroke="#111" stroke-width="0.25">CS</text>
<text transform="translate(671.40 44.30)" font-family='"Liberation Serif", serif' font-size="8.8" font-weight="normal" text-anchor="start" fill="#111" stroke="#111" stroke-width="0.25">FS</text>
<text transform="translate(530.50 76.20) rotate(-90) scale(1.110 1.000)" font-family='"Liberation Serif", serif' font-size="7.9" font-weight="bold" text-anchor="middle" fill="#111" stroke="#111" stroke-width="0.22">Content<tspan font-size="1.3em" dx="1.4">(</tspan>U/L<tspan font-size="1.3em">)</tspan></text>
<text transform="translate(500.80 11.10)" font-family='"Liberation Serif", serif' font-size="15" font-weight="normal" text-anchor="start" fill="#111" stroke="#111" stroke-width="0.35">(d)</text>
<rect x="56.20" y="283.30" width="29.50" height="11.30" fill="#f893c3" stroke="#6b4a5a" stroke-width="0.8"/>
<line x1="70.95" y1="283.30" x2="70.95" y2="278.90" stroke="#555" stroke-width="0.9"/>
<line x1="63.45" y1="278.90" x2="78.45" y2="278.90" stroke="#555" stroke-width="1.0"/>
<path d="M64.40 276.75 L65.85 279.36 L62.95 279.36 Z" fill="#808080"/>
<path d="M67.10 276.75 L68.55 279.36 L65.65 279.36 Z" fill="#808080"/>
<path d="M69.80 276.75 L71.25 279.36 L68.35 279.36 Z" fill="#808080"/>
<path d="M72.40 276.75 L73.85 279.36 L70.95 279.36 Z" fill="#808080"/>
<path d="M75.10 276.75 L76.55 279.36 L73.65 279.36 Z" fill="#808080"/>
<path d="M77.80 276.75 L79.25 279.36 L76.35 279.36 Z" fill="#808080"/>
<path d="M71.10 280.05 L72.55 282.66 L69.65 282.66 Z" fill="#808080"/>
<path d="M64.60 283.35 L66.05 285.96 L63.15 285.96 Z" fill="#808080"/>
<path d="M64.60 286.35 L66.05 288.96 L63.15 288.96 Z" fill="#808080"/>
<path d="M69.00 284.95 L70.45 287.56 L67.55 287.56 Z" fill="#808080"/>
<path d="M73.00 283.35 L74.45 285.96 L71.55 285.96 Z" fill="#808080"/>
<path d="M73.00 285.95 L74.45 288.56 L71.55 288.56 Z" fill="#808080"/>
<path d="M77.60 285.95 L79.05 288.56 L76.15 288.56 Z" fill="#808080"/>
<path d="M77.60 283.35 L79.05 285.96 L76.15 285.96 Z" fill="#808080"/>
<rect x="101.70" y="231.90" width="30.10" height="62.70" fill="#91bef8" stroke="#3d5a80" stroke-width="0.8"/>
<line x1="116.75" y1="231.90" x2="116.75" y2="215.00" stroke="#555" stroke-width="0.9"/>
<line x1="109.25" y1="215.00" x2="124.25" y2="215.00" stroke="#555" stroke-width="1.0"/>
<path d="M116.70 203.05 L118.15 205.66 L115.25 205.66 Z" fill="#808080"/>
<path d="M116.70 207.05 L118.15 209.66 L115.25 209.66 Z" fill="#808080"/>
<path d="M116.70 211.05 L118.15 213.66 L115.25 213.66 Z" fill="#808080"/>
<path d="M116.70 218.55 L118.15 221.16 L115.25 221.16 Z" fill="#808080"/>
<path d="M116.70 223.55 L118.15 226.16 L115.25 226.16 Z" fill="#808080"/>
<path d="M112.50 237.25 L113.95 239.86 L111.05 239.86 Z" fill="#808080"/>
<path d="M116.90 237.25 L118.35 239.86 L115.45 239.86 Z" fill="#808080"/>
<path d="M108.20 244.05 L109.65 246.66 L106.75 246.66 Z" fill="#808080"/>
<path d="M112.50 242.45 L113.95 245.06 L111.05 245.06 Z" fill="#808080"/>
<path d="M116.70 244.05 L118.15 246.66 L115.25 246.66 Z" fill="#808080"/>
<path d="M121.20 243.65 L122.65 246.26 L119.75 246.26 Z" fill="#808080"/>
<path d="M125.50 244.05 L126.95 246.66 L124.05 246.66 Z" fill="#808080"/>
<line x1="40.50" y1="295.20" x2="40.50" y2="187.90" stroke="#1a1a1a" stroke-width="1.3"/>
<line x1="39.85" y1="294.60" x2="148.00" y2="294.60" stroke="#1a1a1a" stroke-width="1.3"/>
<line x1="40.50" y1="294.60" x2="45.30" y2="294.60" stroke="#1a1a1a" stroke-width="1.35"/>
<text transform="translate(38.60 297.80) scale(1.000 1.220)" font-family='"Liberation Sans", sans-serif' font-size="7.8" font-weight="bold" text-anchor="end" fill="#111">0</text>
<line x1="40.50" y1="259.17" x2="45.30" y2="259.17" stroke="#1a1a1a" stroke-width="1.35"/>
<text transform="translate(38.60 262.37) scale(1.000 1.220)" font-family='"Liberation Sans", sans-serif' font-size="7.8" font-weight="bold" text-anchor="end" fill="#111">10</text>
<line x1="40.50" y1="223.73" x2="45.30" y2="223.73" stroke="#1a1a1a" stroke-width="1.35"/>
<text transform="translate(38.60 226.93) scale(1.000 1.220)" font-family='"Liberation Sans", sans-serif' font-size="7.8" font-weight="bold" text-anchor="end" fill="#111">20</text>
<line x1="40.50" y1="188.30" x2="45.30" y2="188.30" stroke="#1a1a1a" stroke-width="1.35"/>
<text transform="translate(38.60 191.50) scale(1.000 1.220)" font-family='"Liberation Sans", sans-serif' font-size="7.8" font-weight="bold" text-anchor="end" fill="#111">30</text>
<line x1="71.10" y1="294.60" x2="71.10" y2="298.60" stroke="#1a1a1a" stroke-width="1.35"/>
<text transform="translate(71.10 307.60)" font-family='"Liberation Serif", serif' font-size="8" font-weight="bold" text-anchor="middle" fill="#111" stroke="#111" stroke-width="0.2">CS</text>
<line x1="116.60" y1="294.60" x2="116.60" y2="298.60" stroke="#1a1a1a" stroke-width="1.35"/>
<text transform="translate(116.60 307.60)" font-family='"Liberation Serif", serif' font-size="8" font-weight="bold" text-anchor="middle" fill="#111" stroke="#111" stroke-width="0.2">FS</text>
<path d="M70.50 185.80 V182.10 H116.70 V185.80" fill="none" stroke="#6a6a6a" stroke-width="1"/>
<circle cx="90.20" cy="177.80" r="1.3" fill="#3a3a3a"/>
<circle cx="93.60" cy="177.80" r="1.3" fill="#3a3a3a"/>
<circle cx="97.00" cy="177.80" r="1.3" fill="#3a3a3a"/>
<rect x="136.00" y="192.90" width="11.50" height="5.30" fill="#f893c3" stroke="#6b4a5a" stroke-width="0.9"/>
<rect x="136.00" y="207.10" width="11.50" height="5.30" fill="#91bef8" stroke="#3d5a80" stroke-width="0.9"/>
<text transform="translate(153.30 198.20)" font-family='"Liberation Serif", serif' font-size="8.8" font-weight="normal" text-anchor="start" fill="#111" stroke="#111" stroke-width="0.25">CS</text>
<text transform="translate(153.30 212.30)" font-family='"Liberation Serif", serif' font-size="8.8" font-weight="normal" text-anchor="start" fill="#111" stroke="#111" stroke-width="0.25">FS</text>
<text transform="translate(24.00 240.90) rotate(-90) scale(1.030 1.000)" font-family='"Liberation Serif", serif' font-size="8.35" font-weight="bold" text-anchor="middle" fill="#111" stroke="#111" stroke-width="0.22">TBIL-V(μmol/L)</text>
<text transform="translate(1.50 165.20)" font-family='"Liberation Serif", serif' font-size="15" font-weight="normal" text-anchor="start" fill="#111" stroke="#111" stroke-width="0.35">(e)</text>
<rect x="224.40" y="222.40" width="30.20" height="72.20" fill="#f893c3" stroke="#6b4a5a" stroke-width="0.8"/>
<line x1="239.50" y1="222.40" x2="239.50" y2="211.40" stroke="#555" stroke-width="0.9"/>
<line x1="232.30" y1="211.40" x2="246.70" y2="211.40" stroke="#555" stroke-width="1.0"/>
<path d="M232.60 206.55 L234.05 209.16 L231.15 209.16 Z" fill="#808080"/>
<path d="M241.00 208.75 L242.45 211.36 L239.55 211.36 Z" fill="#808080"/>
<path d="M246.30 208.75 L247.75 211.36 L244.85 211.36 Z" fill="#808080"/>
<path d="M237.30 217.75 L238.75 220.36 L235.85 220.36 Z" fill="#808080"/>
<path d="M241.50 218.05 L242.95 220.66 L240.05 220.66 Z" fill="#808080"/>
<path d="M232.60 221.55 L234.05 224.16 L231.15 224.16 Z" fill="#808080"/>
<path d="M236.80 221.55 L238.25 224.16 L235.35 224.16 Z" fill="#808080"/>
<path d="M241.00 221.05 L242.45 223.66 L239.55 223.66 Z" fill="#808080"/>
<path d="M245.50 220.55 L246.95 223.16 L244.05 223.16 Z" fill="#808080"/>
<path d="M236.80 226.15 L238.25 228.76 L235.35 228.76 Z" fill="#808080"/>
<path d="M236.80 232.55 L238.25 235.16 L235.35 235.16 Z" fill="#808080"/>
<path d="M237.20 244.85 L238.65 247.46 L235.75 247.46 Z" fill="#808080"/>
<rect x="270.20" y="237.00" width="29.80" height="57.60" fill="#91bef8" stroke="#3d5a80" stroke-width="0.8"/>
<line x1="285.10" y1="237.00" x2="285.10" y2="218.80" stroke="#555" stroke-width="0.9"/>
<line x1="277.90" y1="218.80" x2="292.30" y2="218.80" stroke="#555" stroke-width="1.0"/>
<path d="M284.80 198.15 L286.25 200.76 L283.35 200.76 Z" fill="#808080"/>
<path d="M284.80 219.85 L286.25 222.46 L283.35 222.46 Z" fill="#808080"/>
<path d="M284.80 224.75 L286.25 227.36 L283.35 227.36 Z" fill="#808080"/>
<path d="M281.00 229.35 L282.45 231.96 L279.55 231.96 Z" fill="#808080"/>
<path d="M289.50 228.25 L290.95 230.86 L288.05 230.86 Z" fill="#808080"/>
<path d="M281.00 238.85 L282.45 241.46 L279.55 241.46 Z" fill="#808080"/>
<path d="M285.30 238.85 L286.75 241.46 L283.85 241.46 Z" fill="#808080"/>
<path d="M281.20 252.15 L282.65 254.76 L279.75 254.76 Z" fill="#808080"/>
<path d="M285.20 253.95 L286.65 256.56 L283.75 256.56 Z" fill="#808080"/>
<path d="M289.70 253.95 L291.15 256.56 L288.25 256.56 Z" fill="#808080"/>
<path d="M285.20 257.25 L286.65 259.86 L283.75 259.86 Z" fill="#808080"/>
<line x1="209.00" y1="295.20" x2="209.00" y2="188.10" stroke="#1a1a1a" stroke-width="1.3"/>
<line x1="208.35" y1="294.60" x2="315.80" y2="294.60" stroke="#1a1a1a" stroke-width="1.3"/>
<line x1="209.00" y1="294.60" x2="213.80" y2="294.60" stroke="#1a1a1a" stroke-width="1.35"/>
<text transform="translate(207.10 297.80) scale(1.000 1.220)" font-family='"Liberation Sans", sans-serif' font-size="7.8" font-weight="bold" text-anchor="end" fill="#111">0.0</text>
<line x1="209.00" y1="273.38" x2="213.80" y2="273.38" stroke="#1a1a1a" stroke-width="1.35"/>
<text transform="translate(207.10 276.58) scale(1.000 1.220)" font-family='"Liberation Sans", sans-serif' font-size="7.8" font-weight="bold" text-anchor="end" fill="#111">0.5</text>
<line x1="209.00" y1="252.16" x2="213.80" y2="252.16" stroke="#1a1a1a" stroke-width="1.35"/>
<text transform="translate(207.10 255.36) scale(1.000 1.220)" font-family='"Liberation Sans", sans-serif' font-size="7.8" font-weight="bold" text-anchor="end" fill="#111">1.0</text>
<line x1="209.00" y1="230.94" x2="213.80" y2="230.94" stroke="#1a1a1a" stroke-width="1.35"/>
<text transform="translate(207.10 234.14) scale(1.000 1.220)" font-family='"Liberation Sans", sans-serif' font-size="7.8" font-weight="bold" text-anchor="end" fill="#111">1.5</text>
<line x1="209.00" y1="209.72" x2="213.80" y2="209.72" stroke="#1a1a1a" stroke-width="1.35"/>
<text transform="translate(207.10 212.92) scale(1.000 1.220)" font-family='"Liberation Sans", sans-serif' font-size="7.8" font-weight="bold" text-anchor="end" fill="#111">2.0</text>
<line x1="209.00" y1="188.50" x2="213.80" y2="188.50" stroke="#1a1a1a" stroke-width="1.35"/>
<text transform="translate(207.10 191.70) scale(1.000 1.220)" font-family='"Liberation Sans", sans-serif' font-size="7.8" font-weight="bold" text-anchor="end" fill="#111">2.5</text>
<line x1="239.60" y1="294.60" x2="239.60" y2="298.60" stroke="#1a1a1a" stroke-width="1.35"/>
<text transform="translate(239.60 307.60)" font-family='"Liberation Serif", serif' font-size="8" font-weight="bold" text-anchor="middle" fill="#111" stroke="#111" stroke-width="0.2">CS</text>
<line x1="284.90" y1="294.60" x2="284.90" y2="298.60" stroke="#1a1a1a" stroke-width="1.35"/>
<text transform="translate(284.90 307.60)" font-family='"Liberation Serif", serif' font-size="8" font-weight="bold" text-anchor="middle" fill="#111" stroke="#111" stroke-width="0.2">FS</text>
<path d="M239.30 186.00 V182.20 H285.50 V186.00" fill="none" stroke="#6a6a6a" stroke-width="1"/>
<circle cx="262.00" cy="177.90" r="1.3" fill="#3a3a3a"/>
<rect x="310.80" y="187.40" width="11.50" height="5.30" fill="#f893c3" stroke="#6b4a5a" stroke-width="0.9"/>
<rect x="310.80" y="202.00" width="11.50" height="5.30" fill="#91bef8" stroke="#3d5a80" stroke-width="0.9"/>
<text transform="translate(328.10 192.70)" font-family='"Liberation Serif", serif' font-size="8.8" font-weight="normal" text-anchor="start" fill="#111" stroke="#111" stroke-width="0.25">CS</text>
<text transform="translate(328.10 207.20)" font-family='"Liberation Serif", serif' font-size="8.8" font-weight="normal" text-anchor="start" fill="#111" stroke="#111" stroke-width="0.25">FS</text>
<text transform="translate(191.00 240.70) rotate(-90)" font-family='"Liberation Serif", serif' font-size="8.6" font-weight="bold" text-anchor="middle" fill="#111" stroke="#111" stroke-width="0.22">P(mmol/L)</text>
<text transform="translate(171.50 165.20)" font-family='"Liberation Serif", serif' font-size="15" font-weight="normal" text-anchor="start" fill="#111" stroke="#111" stroke-width="0.35">(f)</text>
<rect x="391.00" y="220.70" width="29.50" height="73.90" fill="#f893c3" stroke="#6b4a5a" stroke-width="0.8"/>
<line x1="405.75" y1="220.70" x2="405.75" y2="206.60" stroke="#555" stroke-width="0.9"/>
<line x1="398.15" y1="206.60" x2="413.35" y2="206.60" stroke="#555" stroke-width="1.0"/>
<path d="M405.90 189.05 L407.35 191.66 L404.45 191.66 Z" fill="#808080"/>
<path d="M405.90 202.25 L407.35 204.86 L404.45 204.86 Z" fill="#808080"/>
<path d="M405.90 207.55 L407.35 210.16 L404.45 210.16 Z" fill="#808080"/>
<path d="M405.90 211.05 L407.35 213.66 L404.45 213.66 Z" fill="#808080"/>
<path d="M405.90 214.55 L407.35 217.16 L404.45 217.16 Z" fill="#808080"/>
<path d="M401.40 220.05 L402.85 222.66 L399.95 222.66 Z" fill="#808080"/>
<path d="M405.90 218.55 L407.35 221.16 L404.45 221.16 Z" fill="#808080"/>
<path d="M410.40 218.55 L411.85 221.16 L408.95 221.16 Z" fill="#808080"/>
<path d="M401.40 224.65 L402.85 227.26 L399.95 227.26 Z" fill="#808080"/>
<path d="M405.90 224.65 L407.35 227.26 L404.45 227.26 Z" fill="#808080"/>
<path d="M410.40 224.65 L411.85 227.26 L408.95 227.26 Z" fill="#808080"/>
<path d="M405.90 230.45 L407.35 233.06 L404.45 233.06 Z" fill="#808080"/>
<path d="M405.90 243.85 L407.35 246.46 L404.45 246.46 Z" fill="#808080"/>
<rect x="436.50" y="236.10" width="30.20" height="58.50" fill="#91bef8" stroke="#3d5a80" stroke-width="0.8"/>
<line x1="451.60" y1="236.10" x2="451.60" y2="220.40" stroke="#555" stroke-width="0.9"/>
<line x1="444.00" y1="220.40" x2="459.20" y2="220.40" stroke="#555" stroke-width="1.0"/>
<path d="M452.10 213.95 L453.55 216.56 L450.65 216.56 Z" fill="#808080"/>
<path d="M456.30 220.45 L457.75 223.06 L454.85 223.06 Z" fill="#808080"/>
<path d="M452.10 224.55 L453.55 227.16 L450.65 227.16 Z" fill="#808080"/>
<path d="M452.10 228.55 L453.55 231.16 L450.65 231.16 Z" fill="#808080"/>
<path d="M447.10 229.15 L448.55 231.76 L445.65 231.76 Z" fill="#808080"/>
<path d="M452.10 232.15 L453.55 234.76 L450.65 234.76 Z" fill="#808080"/>
<path d="M452.10 235.95 L453.55 238.56 L450.65 238.56 Z" fill="#808080"/>
<path d="M455.80 235.95 L457.25 238.56 L454.35 238.56 Z" fill="#808080"/>
<path d="M447.10 255.85 L448.55 258.46 L445.65 258.46 Z" fill="#808080"/>
<path d="M455.80 255.85 L457.25 258.46 L454.35 258.46 Z" fill="#808080"/>
<path d="M451.50 259.55 L452.95 262.16 L450.05 262.16 Z" fill="#808080"/>
<line x1="375.80" y1="295.20" x2="375.80" y2="188.00" stroke="#1a1a1a" stroke-width="1.3"/>
<line x1="375.15" y1="294.60" x2="482.40" y2="294.60" stroke="#1a1a1a" stroke-width="1.3"/>
<line x1="375.80" y1="294.60" x2="380.60" y2="294.60" stroke="#1a1a1a" stroke-width="1.35"/>
<text transform="translate(373.90 297.80) scale(1.000 1.220)" font-family='"Liberation Sans", sans-serif' font-size="7.8" font-weight="bold" text-anchor="end" fill="#111">0</text>
<line x1="375.80" y1="259.20" x2="380.60" y2="259.20" stroke="#1a1a1a" stroke-width="1.35"/>
<text transform="translate(373.90 262.40) scale(1.000 1.220)" font-family='"Liberation Sans", sans-serif' font-size="7.8" font-weight="bold" text-anchor="end" fill="#111">50</text>
<line x1="375.80" y1="223.80" x2="380.60" y2="223.80" stroke="#1a1a1a" stroke-width="1.35"/>
<text transform="translate(373.90 227.00) scale(1.000 1.220)" font-family='"Liberation Sans", sans-serif' font-size="7.8" font-weight="bold" text-anchor="end" fill="#111">100</text>
<line x1="375.80" y1="188.40" x2="380.60" y2="188.40" stroke="#1a1a1a" stroke-width="1.35"/>
<text transform="translate(373.90 191.60) scale(1.000 1.220)" font-family='"Liberation Sans", sans-serif' font-size="7.8" font-weight="bold" text-anchor="end" fill="#111">150</text>
<line x1="405.80" y1="294.60" x2="405.80" y2="298.60" stroke="#1a1a1a" stroke-width="1.35"/>
<text transform="translate(405.80 307.20)" font-family='"Liberation Serif", serif' font-size="8" font-weight="bold" text-anchor="middle" fill="#111" stroke="#111" stroke-width="0.2">CS</text>
<line x1="451.70" y1="294.60" x2="451.70" y2="298.60" stroke="#1a1a1a" stroke-width="1.35"/>
<text transform="translate(451.70 307.20)" font-family='"Liberation Serif", serif' font-size="8" font-weight="bold" text-anchor="middle" fill="#111" stroke="#111" stroke-width="0.2">FS</text>
<path d="M405.30 186.20 V182.40 H451.70 V186.20" fill="none" stroke="#6a6a6a" stroke-width="1"/>
<circle cx="428.60" cy="177.90" r="1.3" fill="#3a3a3a"/>
<rect x="473.00" y="186.50" width="11.50" height="5.30" fill="#f893c3" stroke="#6b4a5a" stroke-width="0.9"/>
<rect x="473.00" y="201.00" width="11.50" height="5.30" fill="#91bef8" stroke="#3d5a80" stroke-width="0.9"/>
<text transform="translate(490.30 191.80)" font-family='"Liberation Serif", serif' font-size="8.8" font-weight="normal" text-anchor="start" fill="#111" stroke="#111" stroke-width="0.25">CS</text>
<text transform="translate(490.30 206.20)" font-family='"Liberation Serif", serif' font-size="8.8" font-weight="normal" text-anchor="start" fill="#111" stroke="#111" stroke-width="0.25">FS</text>
<text transform="translate(355.40 241.20) rotate(-90)" font-family='"Liberation Serif", serif' font-size="8.5" font-weight="bold" text-anchor="middle" fill="#111" stroke="#111" stroke-width="0.22">CREA-S(μmol/L)</text>
<text transform="translate(335.30 165.20)" font-family='"Liberation Serif", serif' font-size="15" font-weight="normal" text-anchor="start" fill="#111" stroke="#111" stroke-width="0.35">(g)</text>
</svg>
</body></html>
